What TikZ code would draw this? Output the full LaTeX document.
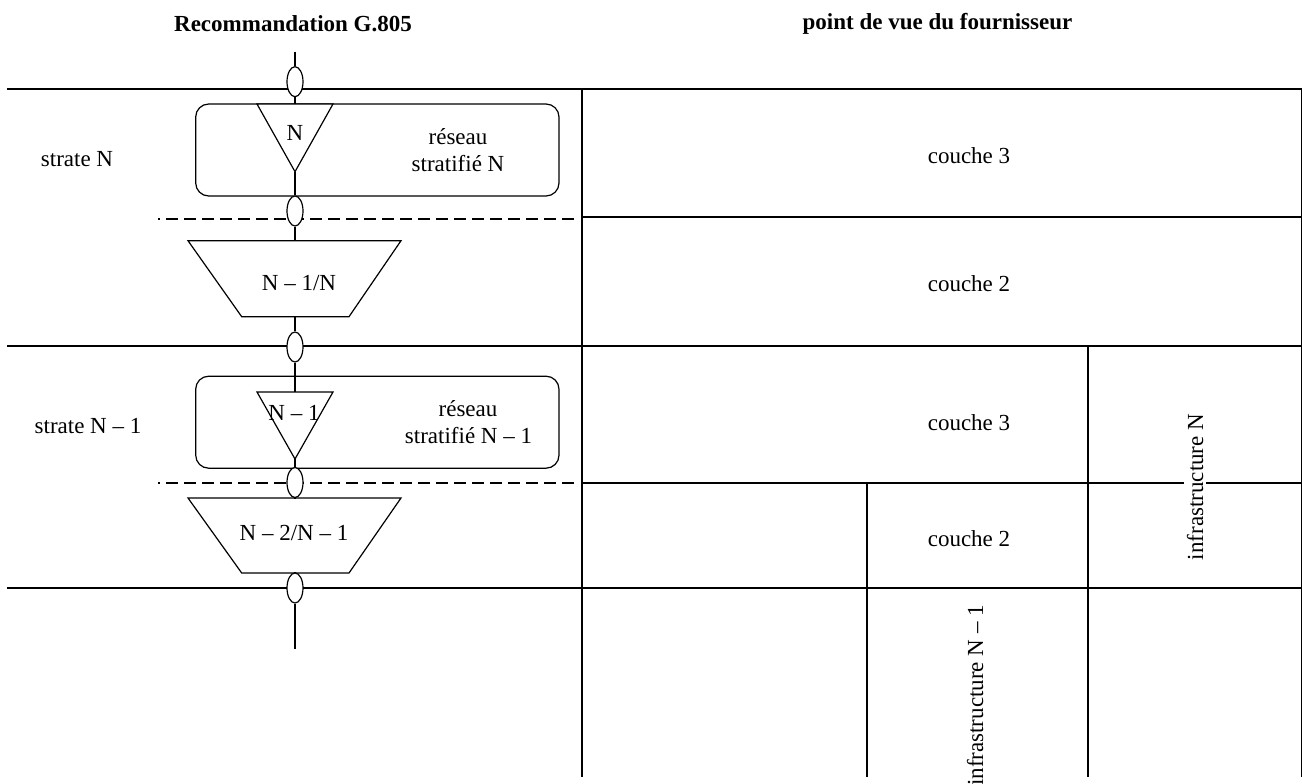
\documentclass[tikz,border=0pt]{standalone}
\usepackage{fontspec}
\setmainfont{Liberation Serif}
\usetikzlibrary{shapes.geometric}
\begin{document}
\begin{tikzpicture}[x=1pt,y=-1pt,
  grid/.style={line width=2.2pt},
  thingrid/.style={line width=1.2pt},
  layerdiv/.style={line width=2pt, dash pattern=on 12pt off 6pt, dash phase=10pt},
  shapeline/.style={line width=1.2pt},
  flow/.style={line width=2pt},
  port/.style={ellipse, draw, line width=1.2pt, fill=white,
    minimum width=16pt, minimum height=30pt, inner sep=0pt},
  netbox/.style={draw, line width=1.2pt, rounded corners=13pt,
    minimum width=363.3pt, minimum height=92pt, inner sep=0pt},
  lbl/.style={font=\fontsize{23}{27.7}\selectfont, inner sep=0pt, anchor=base},
  title/.style={lbl, font=\fontsize{23}{27.7}\selectfont\bfseries},
]
\useasboundingbox (0,0) rectangle (1302,784);

% table of layers
\draw[thingrid] (7,89) -- (1302,89);
\draw[grid] (7,346) -- (1302,346);
\draw[grid] (7,588) -- (1302,588);
\draw[grid] (582,217) -- (1302,217);
\draw[grid] (582,483) -- (1302,483);
\draw[grid] (582,89) -- (582,777);
\draw[grid] (1088,346) -- (1088,777);
\draw[grid] (866.7,483) -- (866.7,777);
\draw[grid] (1302,89) -- (1302,777);

% boundaries between layer network and adaptation
\draw[layerdiv] (158,219) -- (578,219);
\draw[layerdiv] (158,483) -- (578,483);

% layer networks
\node[netbox] (box1) at (377.35,150) {};
\node[netbox] (box2) at (377.35,422.2) {};

% points on the vertical chain
\coordinate (top) at (295,51.7);
\coordinate (bottom) at (295,649);
\coordinate (t1a) at (295,104);
\coordinate (t1b) at (295,171.7);
\coordinate (z1a) at (295,240.7);
\coordinate (z1b) at (295,316.7);
\coordinate (t2a) at (295,392);
\coordinate (t2b) at (295,459);
\coordinate (z2a) at (295,498);
\coordinate (z2b) at (295,573);

% termination triangles and adaptation trapezia
\draw[shapeline, fill=white] (257,104) -- (333,104) -- (t1b) -- cycle;
\draw[shapeline, fill=white] (257,392) -- (333,392) -- (t2b) -- cycle;
\draw[shapeline, fill=white] (188,240.7) -- (401,240.7) -- (349,316.7) -- (241.7,316.7) -- cycle;
\draw[shapeline, fill=white] (188,498) -- (401,498) -- (349,573) -- (241.7,573) -- cycle;

% connection points
\node[port] (p1) at (295,81.7) {};
\node[port] (p2) at (295,211) {};
\node[port] (p3) at (295,347) {};
\node[port] (p4) at (295,482.5) {};
\node[port] (p5) at (295,588) {};

% vertical chain
\draw[flow] (top) -- (p1);
\draw[flow] (p1) -- (t1a);
\draw[flow] (t1b) -- (p2);
\draw[flow] (p2) -- (z1a);
\draw[flow] (z1b) -- (p3);
\draw[flow] (p3) -- (t2a);
\draw[flow] (t2b) -- (p4);
\draw[flow] (p4) -- (z2a);
\draw[flow] (z2b) -- (p5);
\draw[flow] (p5) -- (bottom);

% headings
\node[title] (hl) at (293,31.7) {Recommandation G.805};
\node[title] (hr) at (937.5,30) {point de vue du fournisseur};

% left side labels
\node[lbl] (s1) at (77,166.7) {strate N};
\node[lbl] (s2) at (88,433) {strate N – 1};
\node[lbl] (n1) at (295,140) {N};
\node[lbl] (r1a) at (458,144) {réseau};
\node[lbl] (r1b) at (458,171.7) {stratifié N};
\node[lbl] (a1) at (299,290) {N – 1/N};
\node[lbl] (n2) at (294,420.7) {N – 1};
\node[lbl] (r2a) at (468,416) {réseau};
\node[lbl] (r2b) at (468.5,443) {stratifié N – 1};
\node[lbl] (a2) at (294,540.7) {N – 2/N – 1};

% right side labels
\node[lbl] (c1) at (969,163.3) {couche 3};
\node[lbl] (c2) at (969,291.5) {couche 2};
\node[lbl] (c3) at (969,430) {couche 3};
\node[lbl] (c4) at (969,546.7) {couche 2};
\node[lbl, rotate=90, fill=white, inner sep=3pt] (iN) at (1203,487) {infrastructure N};
\node[lbl, rotate=90] (iN1) at (983,695.5) {infrastructure N – 1};
\end{tikzpicture}
\end{document}
